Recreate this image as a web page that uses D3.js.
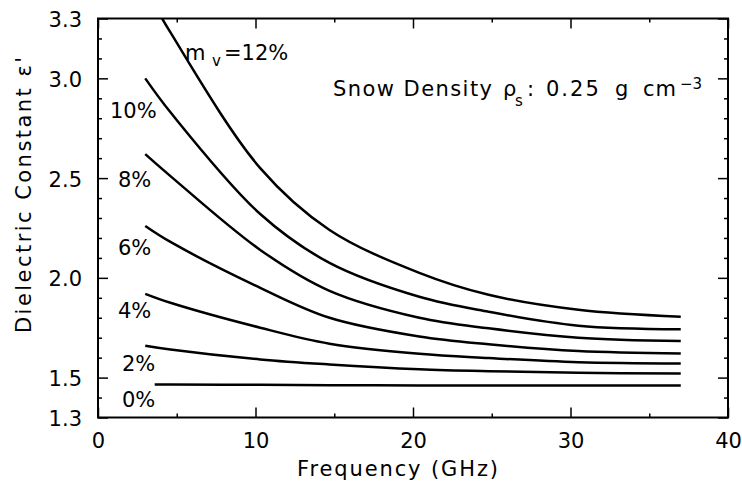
<!DOCTYPE html>
<html>
<head>
<meta charset="utf-8">
<script src="https://cdn.jsdelivr.net/npm/d3@7"></script>
<style>
  html, body { margin: 0; padding: 0; background: #fff; }
  svg { display: block; }
  text { font-family: "DejaVu Sans", sans-serif; fill: #000; }
</style>
</head>
<body>
<svg id="chart" width="742" height="492"></svg>
<script>
// ---- data ----
const freqs  = [3, 4.6, 10.3, 14.7, 20.4, 24.8, 30.5, 37];      // GHz
const freqs0 = [3.6, 4.6, 10.3, 14.7, 20.4, 24.8, 30.5, 37];    // 0% curve starts a bit later
const moistureLabels = ["12%", "10%", "8%", "6%", "4%", "2%", "0%"];
const mv12 = [3.45, 3.23, 2.55, 2.24, 2.025, 1.915, 1.84, 1.805];
const mv10 = [3.00, 2.83, 2.32, 2.075, 1.905, 1.83, 1.76, 1.742];
const mv8  = [2.62, 2.51, 2.14, 1.935, 1.80, 1.747, 1.70, 1.683];
const mv6  = [2.26, 2.18, 1.95, 1.80, 1.706, 1.667, 1.633, 1.621];
const mv4  = [1.92, 1.875, 1.75, 1.67, 1.619, 1.598, 1.577, 1.571];
const mv2  = [1.66, 1.641, 1.591, 1.566, 1.542, 1.532, 1.524, 1.52];
const mv0  = [1.465, 1.465, 1.464, 1.462, 1.461, 1.46, 1.46, 1.46];
const xMajorTicks = [0, 10, 20, 30, 40];
const xMinorTicks = [5, 15, 25, 35];
const yMajorTicks = [1.3, 1.5, 2.0, 2.5, 3.0, 3.3];
const yMinorTicks = [1.4, 1.6, 1.7, 1.8, 1.9, 2.1, 2.2, 2.3, 2.4, 2.6, 2.7, 2.8, 2.9, 3.1, 3.2];

const series = [
  { label: "12%", freq: freqs,  vals: mv12 },
  { label: "10%", freq: freqs,  vals: mv10 },
  { label: "8%",  freq: freqs,  vals: mv8 },
  { label: "6%",  freq: freqs,  vals: mv6 },
  { label: "4%",  freq: freqs,  vals: mv4 },
  { label: "2%",  freq: freqs,  vals: mv2 },
  { label: "0%",  freq: freqs0, vals: mv0 }
];

// ---- layout ----
const L = 98, R = 728, T = 18.5, B = 417.5;
const svg = d3.select("#chart");
const x = d3.scaleLinear().domain([0, 40]).range([L, R]);
const y = d3.scaleLinear().domain([1.3, 3.3]).range([B, T]);

svg.append("defs").append("clipPath").attr("id", "plotclip")
  .append("rect").attr("x", L).attr("y", T).attr("width", R - L).attr("height", B - T);

// ---- axes (ticks point inward) ----
function styleAxis(g) {
  g.select(".domain").remove();
  g.selectAll(".tick line").attr("stroke", "#000").attr("stroke-width", 1.5);
}
const fs = 21;
// bottom
svg.append("g").attr("transform", `translate(0,${B})`)
  .call(d3.axisBottom(x).tickValues(xMajorTicks).tickSize(-10).tickPadding(20).tickFormat(d3.format("d")))
  .call(styleAxis)
  .call(g => g.selectAll(".tick text").attr("font-size", fs).attr("font-family", "DejaVu Sans").attr("dy", "0.5em"));
svg.append("g").attr("transform", `translate(0,${B})`)
  .call(d3.axisBottom(x).tickValues(xMinorTicks).tickSize(-4).tickFormat(""))
  .call(styleAxis);
// top
svg.append("g").attr("transform", `translate(0,${T})`)
  .call(d3.axisTop(x).tickValues(xMajorTicks).tickSize(-10).tickFormat(""))
  .call(styleAxis);
svg.append("g").attr("transform", `translate(0,${T})`)
  .call(d3.axisTop(x).tickValues(xMinorTicks).tickSize(-4).tickFormat(""))
  .call(styleAxis);
// left
svg.append("g").attr("transform", `translate(${L},0)`)
  .call(d3.axisLeft(y).tickValues(yMajorTicks).tickSize(-10).tickPadding(16).tickFormat(d3.format(".1f")))
  .call(styleAxis)
  .call(g => g.selectAll(".tick text").attr("font-size", fs).attr("font-family", "DejaVu Sans").attr("dy", "0.38em"));
svg.append("g").attr("transform", `translate(${L},0)`)
  .call(d3.axisLeft(y).tickValues(yMinorTicks).tickSize(-4).tickFormat(""))
  .call(styleAxis);
// right
svg.append("g").attr("transform", `translate(${R},0)`)
  .call(d3.axisRight(y).tickValues(yMajorTicks).tickSize(-10).tickFormat(""))
  .call(styleAxis);
svg.append("g").attr("transform", `translate(${R},0)`)
  .call(d3.axisRight(y).tickValues(yMinorTicks).tickSize(-4).tickFormat(""))
  .call(styleAxis);

// frame
svg.append("rect").attr("x", L).attr("y", T).attr("width", R - L).attr("height", B - T)
  .attr("fill", "none").attr("stroke", "#000").attr("stroke-width", 2);

// ---- curves ----
const line = d3.line().x(d => x(d[0])).y(d => y(d[1])).curve(d3.curveCatmullRom.alpha(0.5));
svg.append("g").attr("clip-path", "url(#plotclip)")
  .selectAll("path").data(series).join("path")
  .attr("d", s => line(s.freq.map((f, i) => [f, s.vals[i]])))
  .attr("fill", "none").attr("stroke", "#000").attr("stroke-width", 2.5)
  .attr("stroke-linejoin", "round").attr("stroke-linecap", "butt");

// ---- curve labels ----
const labelPos = {
  "10%": [0.76, 2.80], "8%": [1.27, 2.455], "6%": [1.27, 2.115],
  "4%": [1.27, 1.80], "2%": [1.52, 1.533], "0%": [1.52, 1.353]
};
moistureLabels.slice(1).forEach(lbl => {
  const p = labelPos[lbl];
  svg.append("text").attr("x", x(p[0])).attr("y", y(p[1]))
    .attr("font-size", 21).text(lbl);
});
// m_v = 12%
const mx = x(5.52), my = y(3.092);
const mt = svg.append("text").attr("font-size", 21);
mt.append("tspan").attr("x", mx).attr("y", my).text("m");
mt.append("tspan").attr("x", mx + 27).attr("y", my + 6).attr("font-size", 15).text("v");
mt.append("tspan").attr("x", mx + 39).attr("y", my).text("=" + moistureLabels[0]);

// ---- snow density annotation ----
const st = svg.append("text").attr("font-size", 21);
st.append("tspan").attr("x", 333).attr("y", 96).attr("textLength", 159).attr("lengthAdjust", "spacing").text("Snow Density");
st.append("tspan").attr("x", 503).attr("y", 96).text("ρ");
st.append("tspan").attr("x", 515).attr("y", 106).attr("font-size", 15).text("s");
st.append("tspan").attr("x", 527).attr("y", 96).text(":");
st.append("tspan").attr("x", 546).attr("y", 96).attr("letter-spacing", 2).text("0.25");
st.append("tspan").attr("x", 615).attr("y", 96).text("g");
st.append("tspan").attr("x", 643).attr("y", 96).attr("letter-spacing", 1).text("cm");
st.append("tspan").attr("x", 680).attr("y", 89).attr("font-size", 15).text("−3");

// ---- axis titles ----
svg.append("text").attr("x", 397.5).attr("y", 476).attr("text-anchor", "middle")
  .attr("font-size", 21).attr("textLength", 201).attr("lengthAdjust", "spacing")
  .text("Frequency (GHz)");
svg.append("text").attr("transform", "translate(31,195) rotate(-90)")
  .attr("text-anchor", "middle").attr("font-size", 21)
  .attr("textLength", 276).attr("lengthAdjust", "spacing")
  .text("Dielectric Constant ε'");
</script>
</body>
</html>
